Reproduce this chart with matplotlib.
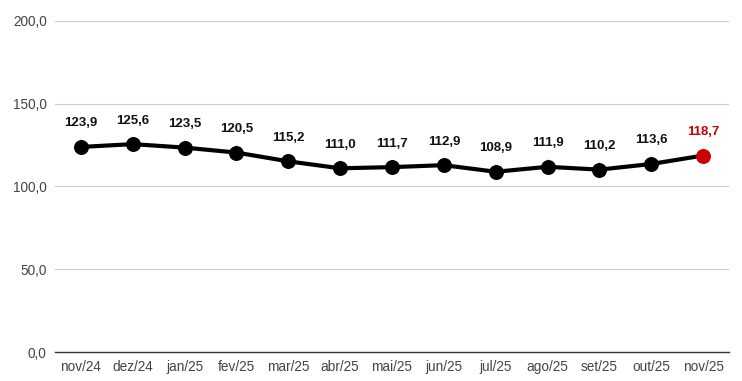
import matplotlib.pyplot as plt

plt.rcParams['font.family'] = ['Liberation Sans', 'DejaVu Sans']

months = ["nov/24", "dez/24", "jan/25", "fev/25", "mar/25", "abr/25", "mai/25",
          "jun/25", "jul/25", "ago/25", "set/25", "out/25", "nov/25"]
values = [123.9, 125.6, 123.5, 120.5, 115.2, 111.0, 111.7, 112.9, 108.9, 111.9, 110.2, 113.6, 118.7]
y_ticks = [0, 50, 100, 150, 200]

fig = plt.figure(figsize=(7.42, 3.81), dpi=100)
ax = fig.add_axes([0.0741, 0.0761, 0.9084, 0.8688])

x = list(range(len(months)))
ax.plot(x, values, color="black", linewidth=3, zorder=3)
ax.scatter(x[:-1], values[:-1], s=95, color="black", zorder=4)
ax.scatter(x[-1:], values[-1:], s=95, color="#cc0000", zorder=4)

for i, v in enumerate(values):
    col = "#cc0000" if i == len(values) - 1 else "#111111"
    ax.annotate(f"{v:.1f}".replace(".", ","), xy=(i, v), xytext=(0, 17),
                textcoords="offset points", ha="center", va="center",
                fontsize=9.5, fontweight="bold", color=col,
                arrowprops=dict(arrowstyle="-", color="#dddddd", lw=0.8,
                                shrinkA=5, shrinkB=0))

ax.set_xlim(-0.5, len(months) - 0.5)
ax.set_ylim(0, 200)
ax.set_yticks(y_ticks)
ax.set_yticklabels([f"{t:.1f}".replace(".", ",") for t in y_ticks])
ax.set_xticks(x)
ax.set_xticklabels(months)
ax.tick_params(axis="both", length=0, labelsize=9.8, colors="#444444")
ax.tick_params(axis="x", pad=6)
ax.tick_params(axis="y", pad=6)
ax.grid(axis="y", color="#cccccc", linewidth=0.8)
ax.set_axisbelow(True)
for s in ["top", "right", "left"]:
    ax.spines[s].set_visible(False)
ax.spines["bottom"].set_color("#333333")
ax.spines["bottom"].set_linewidth(1)

fig.savefig("out.png", dpi=100)
